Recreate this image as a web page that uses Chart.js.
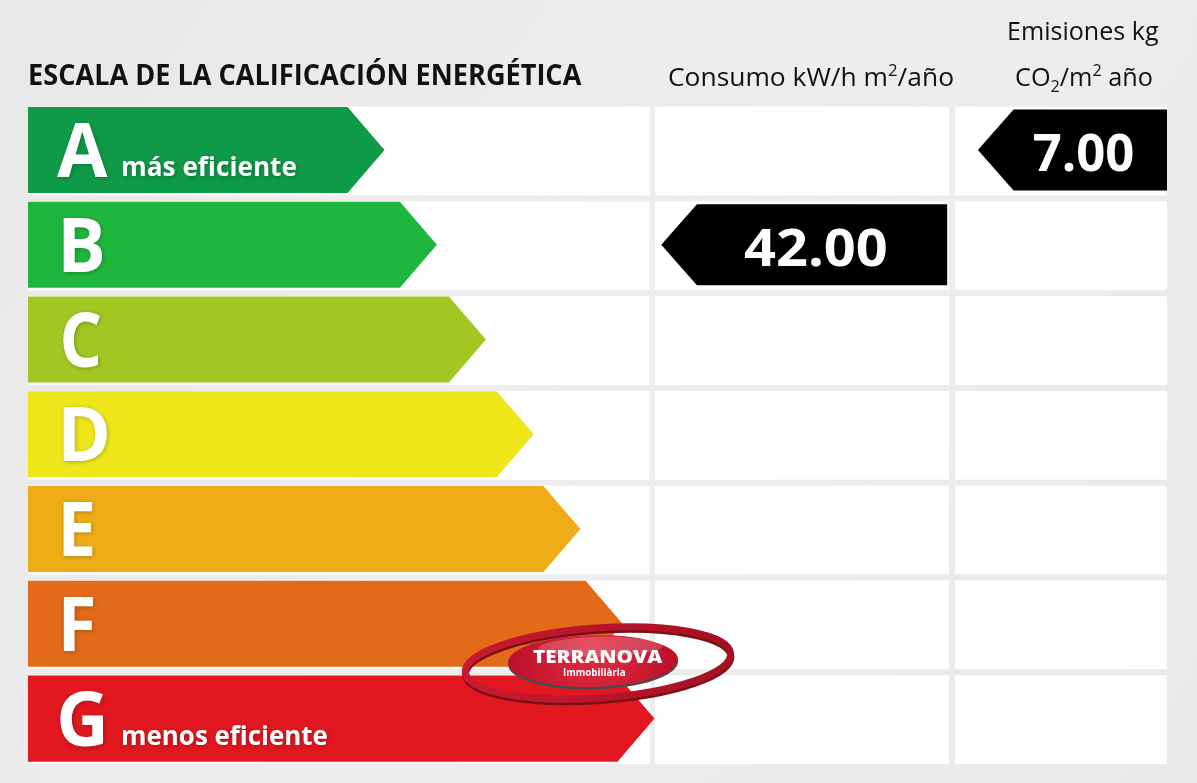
<!DOCTYPE html>
<html>
<head>
<meta charset="utf-8">
<script src="https://cdn.jsdelivr.net/npm/chart.js@4.4.1/dist/chart.umd.min.js"></script>
<style>
  html, body { margin: 0; padding: 0; background: #ebebeb; overflow: hidden; }
  canvas { display: block; }
</style>
</head>
<body>
<canvas id="grafico" width="1197" height="783"></canvas>
<script>
// Datos de la etiqueta
const clases = ['A', 'B', 'C', 'D', 'E', 'F', 'G'];
const longitudFlecha = [31.3, 35.9, 40.2, 44.4, 48.5, 52.2, 55.0];  // % del ancho de la etiqueta
const coloresClase = ['#0f9a47', '#1fb63e', '#a2c722', '#efe61a', '#eead17', '#e26a19', '#e2171f'];
const textoClase = ['más eficiente', '', '', '', '', '', 'menos eficiente'];
const consumo = 42.00;
const claseConsumo = 'B';
const emisiones = 7.00;
const claseEmisiones = 'A';

// Columnas (en unidades del eje x, 0-100)
const columnas = [[0, 54.6], [55.05, 80.86], [81.4, 100]];
const flechaConsumo = [55.6, 80.7];
const flechaEmisiones = [83.4, 100];

const FUENTE = '"Open Sans", "DejaVu Sans", sans-serif';

// Dibuja texto ajustado a un ancho visible dado (x = borde izquierdo)
function textoAjustado(ctx, txt, x, y, ancho, fuente, color) {
  ctx.save();
  ctx.font = fuente;
  ctx.textAlign = 'left';
  ctx.textBaseline = 'alphabetic';
  const m = ctx.measureText(txt);
  const w = m.actualBoundingBoxLeft + m.actualBoundingBoxRight;
  const s = ancho / w;
  ctx.translate(x + m.actualBoundingBoxLeft * s, y);
  ctx.scale(s, 1);
  ctx.fillStyle = color;
  ctx.fillText(txt, 0, 0);
  ctx.restore();
}

// Texto con partes en superíndice / subíndice
function textoPartes(ctx, partes, x, y, ancho, tam, color) {
  ctx.save();
  ctx.textAlign = 'left';
  ctx.textBaseline = 'alphabetic';
  let total = 0;
  partes.forEach(p => {
    ctx.font = `${Math.round(tam * p.esc)}px ${FUENTE}`;
    p.w = ctx.measureText(p.t).width;
    total += p.w;
  });
  const s = ancho / total;
  ctx.translate(x, y);
  ctx.scale(s, 1);
  ctx.fillStyle = color;
  let cx = 0;
  partes.forEach(p => {
    ctx.font = `${Math.round(tam * p.esc)}px ${FUENTE}`;
    ctx.fillText(p.t, cx, p.dy * tam);
    cx += p.w;
  });
  ctx.restore();
}

function flechaDerecha(ctx, x0, x1, yc, h, punta, color) {
  ctx.beginPath();
  ctx.moveTo(x0, yc - h / 2);
  ctx.lineTo(x1 - punta, yc - h / 2);
  ctx.lineTo(x1, yc);
  ctx.lineTo(x1 - punta, yc + h / 2);
  ctx.lineTo(x0, yc + h / 2);
  ctx.closePath();
  ctx.fillStyle = color;
  ctx.fill();
}

function flechaIzquierda(ctx, x0, x1, yc, h, punta, color) {
  ctx.beginPath();
  ctx.moveTo(x0, yc);
  ctx.lineTo(x0 + punta, yc - h / 2);
  ctx.lineTo(x1, yc - h / 2);
  ctx.lineTo(x1, yc + h / 2);
  ctx.lineTo(x0 + punta, yc + h / 2);
  ctx.closePath();
  ctx.fillStyle = color;
  ctx.fill();
}

const anchoLetra = { A: 51, B: 40, C: 37, D: 44, E: 30, F: 30, G: 43 };

const etiqueta = {
  id: 'etiqueta',
  beforeDraw(chart) {
    const ctx = chart.ctx;
    const g = ctx.createLinearGradient(0, 0, chart.width, chart.height);
    g.addColorStop(0, '#e8e8e8');
    g.addColorStop(0.5, '#eeeeee');
    g.addColorStop(1, '#e9e9e9');
    ctx.fillStyle = g;
    ctx.fillRect(0, 0, chart.width, chart.height);

    // celdas blancas
    const x = chart.scales.x, y = chart.scales.y;
    const banda = y.getPixelForValue(1) - y.getPixelForValue(0);
    clases.forEach((c, i) => {
      const yc = y.getPixelForValue(i);
      columnas.forEach(col => {
        const a = x.getPixelForValue(col[0]);
        const b = x.getPixelForValue(col[1]);
        ctx.fillStyle = '#ffffff';
        ctx.fillRect(a, yc - banda / 2 + 4, b - a, banda - 6);
      });
    });

    // cabeceras
    textoAjustado(ctx, 'ESCALA DE LA CALIFICACIÓN ENERGÉTICA', 30, 85, 552, `bold 28px ${FUENTE}`, '#111');
    textoPartes(ctx, [
      { t: 'Consumo kW/h m', esc: 1, dy: 0 },
      { t: '2', esc: 0.62, dy: -0.42 },
      { t: '/año', esc: 1, dy: 0 }
    ], 668, 86, 286, 25, '#111');
    textoAjustado(ctx, 'Emisiones kg', 1009, 40, 150, `25px ${FUENTE}`, '#111');
    textoPartes(ctx, [
      { t: 'CO', esc: 1, dy: 0 },
      { t: '2', esc: 0.62, dy: 0.22 },
      { t: '/m', esc: 1, dy: 0 },
      { t: '2', esc: 0.62, dy: -0.42 },
      { t: ' año', esc: 1, dy: 0 }
    ], 1015, 86, 138, 25, '#111');
  },
  afterDatasetsDraw(chart) {
    const ctx = chart.ctx;
    // flechas de la escala
    chart.getDatasetMeta(0).data.forEach((el, i) => {
      const p = el.getProps(['x', 'y', 'base', 'height'], true);
      const punta = p.height * 0.43;
      flechaDerecha(ctx, p.base, p.x, p.y, p.height, punta, coloresClase[i]);
      ctx.save();
      ctx.shadowColor = 'rgba(0,0,0,0.25)';
      ctx.shadowBlur = 4;
      ctx.shadowOffsetX = 1;
      ctx.shadowOffsetY = 1;
      const letra = clases[i];
      textoAjustado(ctx, letra, letra === 'A' ? 57 : letra === 'G' ? 60 : 63, p.y + 27,
        anchoLetra[letra], `bold 76px ${FUENTE}`, '#ffffff');
      if (textoClase[i]) {
        textoAjustado(ctx, textoClase[i], 123, p.y + 26, i === 0 ? 173 : 204, `bold 27px ${FUENTE}`, '#ffffff');
      }
      ctx.restore();
    });
    // flechas negras de valores
    [[1, consumo], [2, emisiones]].forEach(([d, v]) => {
      const datos = chart.data.datasets[d].data;
      chart.getDatasetMeta(d).data.forEach((el, i) => {
        if (datos[i] == null) return;
        const p = el.getProps(['x', 'y', 'base', 'height'], true);
        const izq = Math.min(p.x, p.base), der = Math.max(p.x, p.base);
        const punta = p.height * 0.44;
        flechaIzquierda(ctx, izq, der, p.y, p.height, punta, '#000000');
        const txt = v.toFixed(2);
        const ancho = txt.length === 5 ? 142 : 99;
        const cx = (izq + der) / 2 + punta * 0.3;
        textoAjustado(ctx, txt, cx - ancho / 2, p.y + 21, ancho, `bold 52px ${FUENTE}`, '#ffffff');
      });
    });
  },
  afterDraw(chart) {
    const ctx = chart.ctx;
    // logotipo
    ctx.save();
    ctx.translate(598, 663);
    ctx.rotate(-0.07);
    ctx.beginPath();
    ctx.ellipse(0, 2.5, 133, 35, 0, 0, Math.PI * 2);
    ctx.lineWidth = 7;
    ctx.strokeStyle = '#7a1016';
    ctx.stroke();
    ctx.beginPath();
    ctx.ellipse(0, 0, 133, 35, 0, 0, Math.PI * 2);
    ctx.lineWidth = 7;
    const gr = ctx.createLinearGradient(-133, 0, 133, 0);
    gr.addColorStop(0, '#c81a30');
    gr.addColorStop(0.5, '#ba142b');
    gr.addColorStop(1, '#a31123');
    ctx.strokeStyle = gr;
    ctx.stroke();
    ctx.restore();

    ctx.save();
    ctx.translate(593, 661);
    ctx.rotate(-0.02);
    ctx.beginPath();
    ctx.ellipse(0, 2, 85, 26.5, 0, 0, Math.PI * 2);
    ctx.fillStyle = '#4a4a4a';
    ctx.fill();
    ctx.beginPath();
    ctx.ellipse(0, 0, 85, 26, 0, 0, Math.PI * 2);
    const rg = ctx.createRadialGradient(0, -10, 5, 0, 0, 90);
    rg.addColorStop(0, '#e12a41');
    rg.addColorStop(1, '#b80f27');
    ctx.fillStyle = rg;
    ctx.fill();
    ctx.beginPath();
    ctx.ellipse(8, -14, 62, 10, 0, 0, Math.PI * 2);
    ctx.fillStyle = 'rgba(255,255,255,0.18)';
    ctx.fill();
    ctx.restore();
    textoAjustado(ctx, 'TERRANOVA', 533, 663, 130, `900 17px ${FUENTE}`, '#ffffff');
    textoAjustado(ctx, 'Immobiliària', 563, 676, 62, `bold 11px ${FUENTE}`, '#ffffff');
  }
};

const conValor = (clase, rango) => clases.map(c => (c === clase ? rango : null));

new Chart(document.getElementById('grafico'), {
  type: 'bar',
  data: {
    labels: clases,
    datasets: [
      {
        label: 'Escala',
        data: longitudFlecha,
        backgroundColor: 'rgba(0,0,0,0)',
        categoryPercentage: 1,
        barPercentage: 0.908,
        grouped: false
      },
      {
        label: 'Consumo kW/h m²/año',
        data: conValor(claseConsumo, flechaConsumo),
        backgroundColor: 'rgba(0,0,0,0)',
        categoryPercentage: 1,
        barPercentage: 0.855,
        grouped: false
      },
      {
        label: 'Emisiones kg CO₂/m² año',
        data: conValor(claseEmisiones, flechaEmisiones),
        backgroundColor: 'rgba(0,0,0,0)',
        categoryPercentage: 1,
        barPercentage: 0.855,
        grouped: false
      }
    ]
  },
  options: {
    indexAxis: 'y',
    responsive: false,
    animation: false,
    layout: { padding: { left: 28, right: 30, top: 102.6, bottom: 17 } },
    scales: {
      x: { type: 'linear', min: 0, max: 100, display: false },
      y: { display: false }
    },
    plugins: {
      legend: { display: false },
      tooltip: { enabled: false }
    }
  },
  plugins: [etiqueta]
});
</script>
</body>
</html>
